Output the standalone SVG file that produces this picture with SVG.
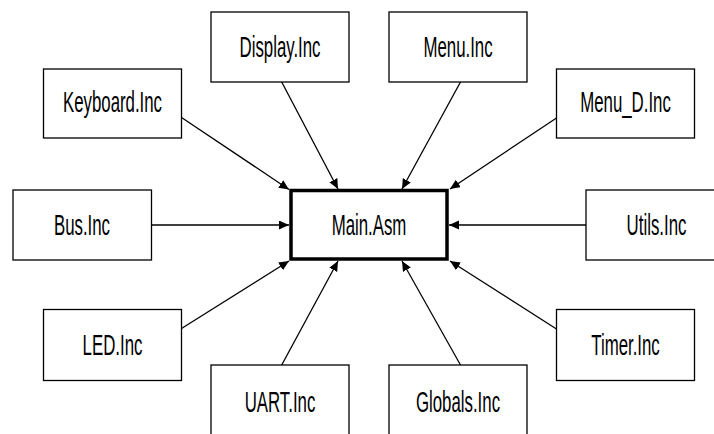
<svg xmlns="http://www.w3.org/2000/svg" width="714" height="434" viewBox="0 0 714 434">
  <style>
    .box { fill: #ffffff; stroke: #000000; stroke-width: 1.3; }
    .main { fill: #ffffff; stroke: #000000; stroke-width: 3.5; }
    .lbl { font-family: "Liberation Sans", Arial, sans-serif; font-size: 29px; fill: #000000; text-anchor: middle; }
    .edge { stroke: #000000; stroke-width: 1.3; fill: none; marker-end: url(#arrow); }
  </style>
  <defs>
    <marker id="arrow" markerUnits="userSpaceOnUse" markerWidth="11" markerHeight="10" refX="10" refY="4.5" orient="auto">
      <path d="M0,0 L10,4.5 L0,9 z" fill="#000000"/>
    </marker>
  </defs>
  <rect width="714" height="434" fill="#ffffff"/>

  <!-- dependencies: every include file feeds the main module -->
  <g id="connectors">
    <line class="edge" x1="181.5" y1="117.5" x2="289" y2="189.5"/>
    <line class="edge" x1="281.7" y1="82" x2="338" y2="189"/>
    <line class="edge" x1="460.5" y1="82" x2="402" y2="189"/>
    <line class="edge" x1="556.5" y1="118" x2="450" y2="189"/>
    <line class="edge" x1="151" y1="225" x2="289" y2="225"/>
    <line class="edge" x1="586" y1="225" x2="449" y2="225"/>
    <line class="edge" x1="181.5" y1="328.5" x2="289" y2="261"/>
    <line class="edge" x1="281.7" y1="365" x2="338" y2="261"/>
    <line class="edge" x1="460.5" y1="365" x2="402" y2="261"/>
    <line class="edge" x1="556.5" y1="329" x2="450" y2="261"/>
  </g>

  <g id="main-asm">
    <rect class="main" x="291" y="190.5" width="156" height="68.5"/>
    <text class="lbl" transform="translate(369,235) scale(0.58,1)">Main.Asm</text>
  </g>
  <g id="display-inc">
    <rect class="box" x="211" y="12" width="138" height="70"/>
    <text class="lbl" transform="translate(280,57) scale(0.58,1)">Display.Inc</text>
  </g>
  <g id="menu-inc">
    <rect class="box" x="389" y="12" width="138" height="70"/>
    <text class="lbl" transform="translate(458,57) scale(0.58,1)">Menu.Inc</text>
  </g>
  <g id="keyboard-inc">
    <rect class="box" x="43.5" y="69" width="138" height="69"/>
    <text class="lbl" transform="translate(112.5,111.5) scale(0.58,1)">Keyboard.Inc</text>
  </g>
  <g id="menu-d-inc">
    <rect class="box" x="556.5" y="69" width="138" height="69"/>
    <text class="lbl" transform="translate(625.5,111.5) scale(0.58,1)">Menu_D.Inc</text>
  </g>
  <g id="bus-inc">
    <rect class="box" x="13" y="190" width="138.5" height="70"/>
    <text class="lbl" transform="translate(82,234.5) scale(0.58,1)">Bus.Inc</text>
  </g>
  <g id="utils-inc">
    <rect class="box" x="586" y="190" width="138" height="70"/>
    <text class="lbl" transform="translate(656.5,234.5) scale(0.58,1)">Utils.Inc</text>
  </g>
  <g id="led-inc">
    <rect class="box" x="43.5" y="309.5" width="138" height="71"/>
    <text class="lbl" transform="translate(112.5,355) scale(0.58,1)">LED.Inc</text>
  </g>
  <g id="timer-inc">
    <rect class="box" x="556.5" y="309.5" width="138" height="71"/>
    <text class="lbl" transform="translate(625.5,355) scale(0.58,1)">Timer.Inc</text>
  </g>
  <g id="uart-inc">
    <rect class="box" x="211" y="365" width="138" height="72"/>
    <text class="lbl" transform="translate(280,411.5) scale(0.58,1)">UART.Inc</text>
  </g>
  <g id="globals-inc">
    <rect class="box" x="389" y="365" width="138" height="72"/>
    <text class="lbl" transform="translate(458,411.5) scale(0.58,1)">Globals.Inc</text>
  </g>
</svg>
